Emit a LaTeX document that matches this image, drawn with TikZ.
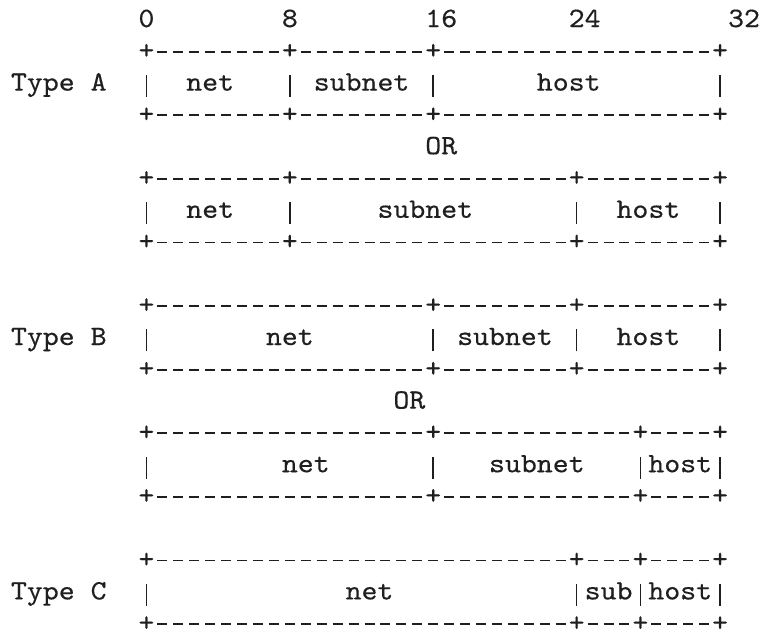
\documentclass[tikz,border=0pt]{standalone}
\usepackage{fontspec}
\usepackage{tikz}

\newfontfamily\asciifont[FakeStretch=1.084, FakeBold=0.4]{lmmono10-regular.otf}

% one character cell: blank, dash or bar
\newcommand{\cell}[1]{\makebox[\fontcharwd\font`0][c]{#1}}
\newcommand{\gap}[1]{\foreach\k in {1,...,#1}{\hphantom{0}}}
\newcommand{\dashrun}[1]{\foreach\k in {1,...,#1}{\cell{\rule[6.2pt]{10pt}{1.9pt}}}}
\newcommand{\vbar}{\cell{\rule[-6.3pt]{1.6pt}{22pt}}}

\begin{document}
\begin{tikzpicture}[
    x=1pt, y=-1pt,
    line/.style={anchor=base west, inner sep=0pt, outer sep=0pt, text=black!88,
                 font=\asciifont\fontsize{28}{31.8}\selectfont}
]
    \useasboundingbox (0,0) rectangle (764,635);

    % Bit positions
    \node[line] (bitpos) at (11,27) {\gap{8}0\gap{8}8\gap{8}16\gap{7}24\gap{8}32};

    % Type A
    \node[line] (a1top) at (11,58.8) {\gap{8}+\dashrun{8}+\dashrun{8}+\dashrun{17}+};
    \node[line] (a1row) at (11,90.6) {Type\gap{1}A\gap{2}\vbar\gap{2}net\gap{3}\vbar\gap{1}subnet\gap{1}\vbar\gap{6}host\gap{7}\vbar};
    \node[line] (a1bot) at (11,122.4) {\gap{8}+\dashrun{8}+\dashrun{8}+\dashrun{17}+};
    \node[line] (aor) at (11,154.2) {\gap{26}OR};
    \node[line] (a2top) at (11,186) {\gap{8}+\dashrun{8}+\dashrun{17}+\dashrun{8}+};
    \node[line] (a2row) at (11,217.8) {\gap{8}\vbar\gap{2}net\gap{3}\vbar\gap{5}subnet\gap{6}\vbar\gap{2}host\gap{2}\vbar};
    \node[line] (a2bot) at (11,249.6) {\gap{8}+\dashrun{8}+\dashrun{17}+\dashrun{8}+};

    % Type B
    \node[line] (b1top) at (11,313.2) {\gap{8}+\dashrun{17}+\dashrun{8}+\dashrun{8}+};
    \node[line] (b1row) at (11,345) {Type\gap{1}B\gap{2}\vbar\gap{7}net\gap{7}\vbar\gap{1}subnet\gap{1}\vbar\gap{2}host\gap{2}\vbar};
    \node[line] (b1bot) at (11,376.8) {\gap{8}+\dashrun{17}+\dashrun{8}+\dashrun{8}+};
    \node[line] (bor) at (11,408.6) {\gap{24}OR};
    \node[line] (b2top) at (11,440.4) {\gap{8}+\dashrun{17}+\dashrun{12}+\dashrun{4}+};
    \node[line] (b2row) at (11,472.2) {\gap{8}\vbar\gap{8}net\gap{6}\vbar\gap{3}subnet\gap{3}\vbar host\vbar};
    \node[line] (b2bot) at (11,504) {\gap{8}+\dashrun{17}+\dashrun{12}+\dashrun{4}+};

    % Type C
    \node[line] (c1top) at (11,567.6) {\gap{8}+\dashrun{26}+\dashrun{3}+\dashrun{4}+};
    \node[line] (c1row) at (11,599.4) {Type\gap{1}C\gap{2}\vbar\gap{12}net\gap{11}\vbar sub\vbar host\vbar};
    \node[line] (c1bot) at (11,631.2) {\gap{8}+\dashrun{26}+\dashrun{3}+\dashrun{4}+};

\end{tikzpicture}
\end{document}
